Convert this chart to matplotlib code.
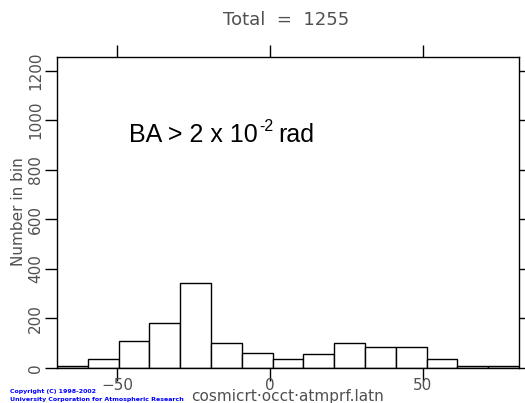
import numpy as np
import matplotlib
matplotlib.use('Agg')
import matplotlib.pyplot as plt

# bin edges (latitude) and counts
lat_min, lat_max = -69.7, 81.5
counts = [10, 38, 108, 181, 344, 101, 60, 35, 57, 100, 84, 86, 35, 8, 8]
total = 1255

edges = np.linspace(lat_min, lat_max, len(counts) + 1)
grey = '#505050'

fig = plt.figure(figsize=(5.25, 4.03), dpi=100)
ax = fig.add_axes([57/525, 1 - 368/403, (519 - 57)/525, (368 - 57)/403])

ax.bar(edges[:-1], counts, width=np.diff(edges), align='edge',
       facecolor='white', edgecolor='black', lw=1.0)

ax.set_xlim(lat_min, lat_max)
ax.set_ylim(0, total)
ax.set_xticks([-50, 0, 50])
ax.set_yticks(range(0, 1201, 200))
ax.tick_params(direction='out', length=9, width=1, colors='black',
               labelcolor=grey, labelsize=11, top=True, right=True)
ax.tick_params(axis='x', pad=-1.5)
ax.tick_params(axis='y', pad=1)
for lab in ax.get_yticklabels():
    lab.set_rotation(90)
    lab.set_va('center')
for s in ax.spines.values():
    s.set_linewidth(1)

fig.text(19/525, 1 - 212/403, 'Number in bin', color=grey, fontsize=11,
         rotation=90, ha='center', va='center')
fig.text(288/525, 1 - 397/403, 'cosmicrt\u00b7occt\u00b7atmprf.latn', color=grey,
         fontsize=11, ha='center', va='center')
fig.text(286/525, 1 - 20/403, 'Total  =  1255', color=grey, fontsize=13,
         ha='center', va='center')

# annotation: main text, raised superscript, then units, chained left to right
fig.canvas.draw()
r = fig.canvas.get_renderer()
t1 = fig.text(129/525, 1 - 142/403, 'BA > 2 x 10', fontsize=18,
              family='Liberation Sans', va='baseline')
e1 = t1.get_window_extent(r).x1
t2 = fig.text((e1 + 1)/525, 1 - 131/403, '-2', fontsize=11.5,
              family='Liberation Sans', va='baseline')
e2 = t2.get_window_extent(r).x1
fig.text((e2 + 5)/525, 1 - 142/403, 'rad', fontsize=18,
         family='Liberation Sans', va='baseline')

fig.text(10/525, 1 - 391/403, 'Copyright (C) 1998-2002', color='blue',
         fontsize=4.5, fontweight='bold', va='center')
fig.text(10/525, 1 - 399/403, 'University Corporation for Atmospheric Research',
         color='blue', fontsize=4.5, fontweight='bold', va='center')

fig.savefig('out.png', dpi=100)
